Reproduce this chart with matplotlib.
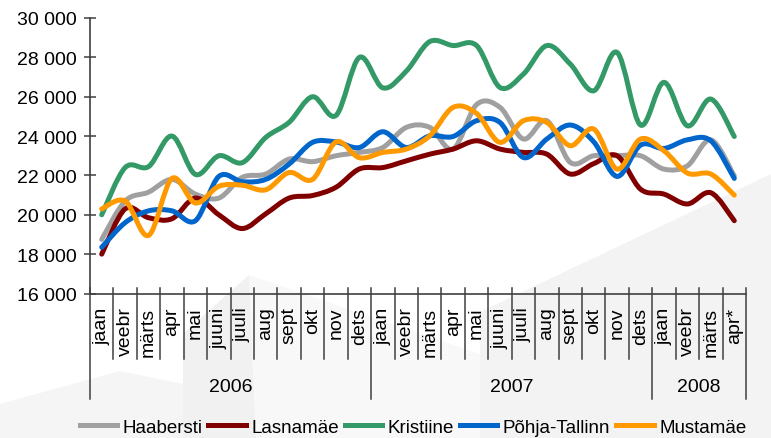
import numpy as np
import matplotlib.pyplot as plt
from matplotlib.path import Path
from matplotlib.patches import PathPatch, Polygon
from matplotlib.lines import Line2D

plt.rcParams['font.family'] = ['Liberation Sans', 'DejaVu Sans']

# Andmed
months = (['jaan', 'veebr', 'märts', 'apr', 'mai', 'juuni', 'juuli', 'aug',
           'sept', 'okt', 'nov', 'dets'] * 2 + ['jaan', 'veebr', 'märts', 'apr*'])
years = ['2006', '2007', '2008']
year_len = [12, 12, 4]

haabersti = [18750, 20700, 21150, 21800, 21050, 20850, 21900, 22070, 22830, 22700,
             23000, 23170, 23420, 24440, 24440, 23340, 25600, 25460, 23850, 24780,
             22660, 23000, 23000, 23000, 22320, 22490, 23810, 21980]
lasnamae = [18000, 20300, 19850, 19800, 20850, 20000, 19300, 20050, 20850, 20980,
            21400, 22330, 22400, 22740, 23080, 23340, 23760, 23340, 23170, 23080,
            22070, 22600, 23000, 21300, 21050, 20550, 21120, 19700]
kristiine = [20000, 22400, 22450, 24000, 22050, 23000, 22650, 23930, 24700, 26000,
             25050, 28000, 26450, 27300, 28800, 28600, 28600, 26470, 27150, 28600,
             27660, 26300, 28250, 24560, 26730, 24520, 25880, 23980]
pohja = [18350, 19600, 20200, 20200, 19700, 21950, 21680, 21800, 22580, 23680,
         23700, 23420, 24220, 23420, 24010, 23980, 24780, 24690, 22910, 23850,
         24560, 23710, 21950, 23540, 23370, 23810, 23760, 21850]
mustamae = [20300, 20700, 18950, 21850, 20600, 21450, 21500, 21270, 22150, 21800,
            23700, 22900, 23170, 23340, 24010, 25460, 25150, 23680, 24780, 24690,
            23510, 24360, 22320, 23850, 23250, 22120, 22070, 21000]

series = [('Haabersti', haabersti, '#a0a0a0'),
          ('Lasnamäe', lasnamae, '#800000'),
          ('Kristiine', kristiine, '#339966'),
          ('Põhja-Tallinn', pohja, '#0066cc'),
          ('Mustamäe', mustamae, '#ff9900')]

W, H = 771, 439
FS = 14


def px(x, y):
    # piksel -> joonise koordinaadid
    return (x / W, 1 - y / H)


def smooth_path(xs, ys):
    # Exceli stiilis silutud joon (Bezier)
    pts = np.column_stack([xs, ys]).astype(float)
    n = len(pts)
    verts = [pts[0]]
    codes = [Path.MOVETO]
    for i in range(n - 1):
        p0 = pts[max(i - 1, 0)]
        p1 = pts[i]
        p2 = pts[i + 1]
        p3 = pts[min(i + 2, n - 1)]
        c1 = p1 + (p2 - p0) / 6
        c2 = p2 - (p3 - p1) / 6
        verts += [c1, c2, p2]
        codes += [Path.CURVE4] * 3
    return Path(verts, codes)


fig = plt.figure(figsize=(W / 100, H / 100), dpi=100)
fig.patch.set_facecolor('white')

# taustakujundid eraldi teljestikul
bg = fig.add_axes([0, 0, 1, 1], zorder=-1)
bg.set_axis_off()
bg.set_xlim(0, 1)
bg.set_ylim(0, 1)
for poly, col in [
    ([(0, 439), (0, 405), (120, 372), (183, 385), (183, 439)], '#f5f5f5'),
    ([(183, 439), (183, 335), (249, 276), (256, 439)], '#f1f1f1'),
    ([(256, 439), (249, 276), (480, 355), (480, 439)], '#f8f8f8'),
    ([(480, 439), (480, 313), (771, 175), (771, 439)], '#f3f3f3'),
]:
    bg.add_patch(Polygon([px(*p) for p in poly], closed=True,
                         facecolor=col, edgecolor='none'))

ax_h = 275.5
ax = fig.add_axes([90 / W, 1 - 294.5 / H, 656 / W, ax_h / H], zorder=1)
ax.set_facecolor('none')

x = np.arange(len(months))
for name, vals, col in series:
    ax.add_patch(PathPatch(smooth_path(x, vals), fill=False, edgecolor=col,
                           lw=3.6, capstyle='round', joinstyle='round', zorder=3))

ax.set_xlim(-0.5, len(months) - 0.5)
ax.set_ylim(16000, 30000)
yt = np.arange(16000, 30001, 2000)
ax.set_yticks(yt)
ax.set_yticklabels([f'{v:,}'.replace(',', ' ') for v in yt], fontsize=FS)
ax.set_xticks([])
ax.tick_params(axis='y', direction='inout', length=9, width=1.1,
               color='#404040', pad=5)
for s in ['top', 'right']:
    ax.spines[s].set_visible(False)
for s in ['left', 'bottom']:
    ax.spines[s].set_color('#404040')
    ax.spines[s].set_linewidth(1.2)

# kuude ja aastate eraldajad
tr = ax.get_xaxis_transform()
year_edges = np.cumsum([0] + year_len)
for b in range(len(months) + 1):
    low = -105 if b in year_edges else -65
    ax.plot([b - 0.5, b - 0.5], [6 / ax_h, low / ax_h], transform=tr,
            color='#404040', lw=1.1, clip_on=False)
for i, m in enumerate(months):
    ax.text(i, -13 / ax_h, m, rotation=90, ha='center', va='top',
            fontsize=FS, transform=tr)
for j, yname in enumerate(years):
    mid = (year_edges[j] + year_edges[j + 1]) / 2 - 0.5
    ax.text(mid, -93.5 / ax_h, yname, ha='center', va='center',
            fontsize=FS, transform=tr)

handles = [Line2D([], [], color=c, lw=3.6) for _, _, c in series]
fig.legend(handles, [s[0] for s in series], loc='center',
           bbox_to_anchor=px(413, 428), ncol=5, frameon=False,
           fontsize=13.5, handlelength=2.0, handletextpad=0.3,
           columnspacing=0.3, borderaxespad=0)

fig.savefig('out.png', dpi=100)
